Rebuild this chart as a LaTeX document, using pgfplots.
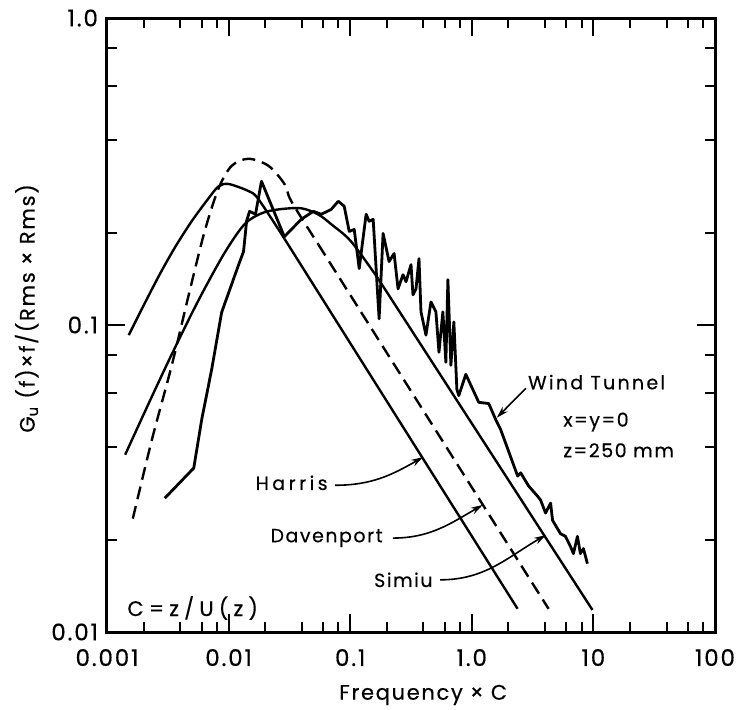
\documentclass[border=0pt]{standalone}
\usepackage{fontspec}
\setmainfont{Poppins}[LetterSpace=8, FakeBold=0.4]
\usepackage{pgfplots}
\pgfplotsset{compat=1.18}
\usetikzlibrary{arrows.meta}

% spectra (x = frequency x C, y = normalised spectrum)
\pgfplotstableread{
x y
0.00151 0.0927
0.00194 0.113
0.00267 0.1445
0.00361 0.1786
0.00498 0.218
0.00686 0.259
0.00828 0.283
0.0100 0.288
0.0146 0.273
0.0176 0.257
0.0288 0.191
}\harriscurve
\pgfplotstableread{
x y
0.00163 0.0234
0.00234 0.0423
0.00341 0.0739
0.00470 0.1254
0.00635 0.2018
0.00828 0.279
0.0106 0.330
0.0146 0.348
0.0213 0.330
0.0288 0.288
0.0328 0.253
0.0547 0.183
}\davenportcurve
\pgfplotstableread{
x y
0.00141 0.0378
0.00221 0.0557
0.00341 0.0803
0.00568 0.1208
0.00927 0.1718
0.01352 0.213
0.0186 0.231
0.0257 0.238
0.0396 0.240
0.0547 0.229
0.0698 0.213
0.1019 0.187
0.1698 0.1416
}\simiucurve
\pgfplotstableread{
x y
0.00299 0.0273
0.00517 0.0342
0.00601 0.0492
0.00726 0.0717
0.00877 0.110
0.01208 0.157
0.01327 0.1735
0.01406 0.218
0.01487 0.2346
0.01665 0.2295
0.01864 0.294
0.02875 0.194
0.0396 0.221
0.0497 0.2346
0.0578 0.2295
0.0698 0.238
0.0798 0.253
0.0893 0.2437
0.0982 0.2018
0.1079 0.2048
0.1186 0.1527
0.1352 0.2295
0.1432 0.2178
0.1545 0.221
0.1729 0.1047
0.1864 0.1988
0.2088 0.161
0.2296 0.171
0.2474 0.1312
0.2719 0.1459
0.2877 0.1384
0.3162 0.1573
0.3283 0.1254
0.3475 0.1312
0.3680 0.1645
0.382 0.1104
0.4198 0.0927
0.4613 0.1189
0.5068 0.1104
0.537 0.0815
0.578 0.1104
0.612 0.0756
0.636 0.1405
0.673 0.0739
0.712 0.1023
0.754 0.0617
0.782 0.0589
0.893 0.0691
1.141 0.0560
1.378 0.0555
1.573 0.0492
1.729 0.0456
2.384 0.0322
2.524 0.0330
2.933 0.0299
3.474 0.0277
3.679 0.0269
4.045 0.0244
4.447 0.0263
4.616 0.0231
5.37 0.0209
5.89 0.0205
6.48 0.0190
6.85 0.0180
7.39 0.0205
7.82 0.0180
8.28 0.0187
8.93 0.0167
}\windtunnel

\begin{document}
\begin{tikzpicture}
\useasboundingbox (-53.5pt,-38.5pt) rectangle (320pt,316pt);
\begin{axis}[
    at={(0,0)}, anchor=south west,
    scale only axis, width=304pt, height=307pt,
    xmode=log, ymode=log,
    xmin=0.001, xmax=100, ymin=0.01, ymax=1,
    clip=false,
    axis line style={line width=1.5pt},
    tick style={line width=1pt, black},
    tick align=inside,
    major tick length=9pt, minor tick length=5pt,
    xtick={0.001,0.01,0.1,1,10,100},
    xticklabels={0.001,0.01,0.1,1.0,10,100},
    ytick={0.01,0.1,1},
    yticklabels={0.01,0.1,1.0},
    minor xtick={0.002,0.004,0.006,0.008,0.02,0.04,0.06,0.08,0.2,0.4,0.6,0.8,2,4,6,8,20,40,60,80},
    minor ytick={0.02,0.04,0.06,0.08,0.2,0.4,0.6,0.8},
    ticklabel style={font=\fontsize{11.5}{13}\selectfont},
    xticklabel style={yshift=-5pt},
    yticklabel style={xshift=-1pt},
    label style={font=\fontsize{10.5}{12}\selectfont},
    xlabel={Frequency \texttimes{} C},
    xlabel style={at={(rel axis cs:0.52,-0.1026)}, anchor=center},
    ylabel={G\textsubscript{u} (f)\texttimes{}f/(Rms \texttimes{} Rms)},
    ylabel style={at={(rel axis cs:-0.132,0.527)}, anchor=center},
    every axis plot/.append style={black, line join=round},
]
\addplot[line width=1.2pt, smooth] table {\harriscurve};
\addplot[line width=1.2pt] coordinates {(0.0288,0.191) (2.38,0.0119)};
\addplot[line width=1.2pt, dash pattern=on 6.5pt off 3.5pt, smooth] table {\davenportcurve};
\addplot[line width=1.2pt, dash pattern=on 6.5pt off 3.5pt] coordinates {(0.0547,0.183) (4.28,0.0119)};
\addplot[line width=1.2pt, smooth] table {\simiucurve};
\addplot[line width=1.2pt] coordinates {(0.1698,0.1416) (9.82,0.0118)};
\addplot[line width=1.4pt] table {\windtunnel};

% annotations
\begin{scope}[every node/.style={font=\fontsize{9.5}{11}\selectfont, inner sep=0pt},
              arr/.style={line width=0.8pt, -{Stealth[length=6pt,width=3.5pt]}}]
\node[anchor=west] at (rel axis cs:0.692,0.407) {\addfontfeature{LetterSpace=12}Wind Tunnel};
\draw[arr] (rel axis cs:0.689,0.397) -- (rel axis cs:0.641,0.349);
\node[anchor=west] at (rel axis cs:0.75,0.342) {x=y=0};
\node[anchor=west] at (rel axis cs:0.75,0.296) {z=250 mm};
\node[anchor=east] at (rel axis cs:0.3635,0.243) {\addfontfeature{LetterSpace=18}Harris};
\draw[arr] (rel axis cs:0.375,0.239) to[out=0,in=210] (rel axis cs:0.520,0.285);
\node[anchor=east] at (rel axis cs:0.454,0.153) {Davenport};
\draw[arr] (rel axis cs:0.470,0.153) to[out=0,in=210] (rel axis cs:0.618,0.207);
\node[anchor=east] at (rel axis cs:0.536,0.085) {Simiu};
\draw[arr] (rel axis cs:0.548,0.085) to[out=0,in=210] (rel axis cs:0.722,0.158);
\node[anchor=west, font=\fontsize{10.5}{12}\selectfont] at (rel axis cs:0.033,0.039) {\addfontfeature{LetterSpace=25}C=z/U(z)};
\end{scope}
\end{axis}
\end{tikzpicture}
\end{document}
